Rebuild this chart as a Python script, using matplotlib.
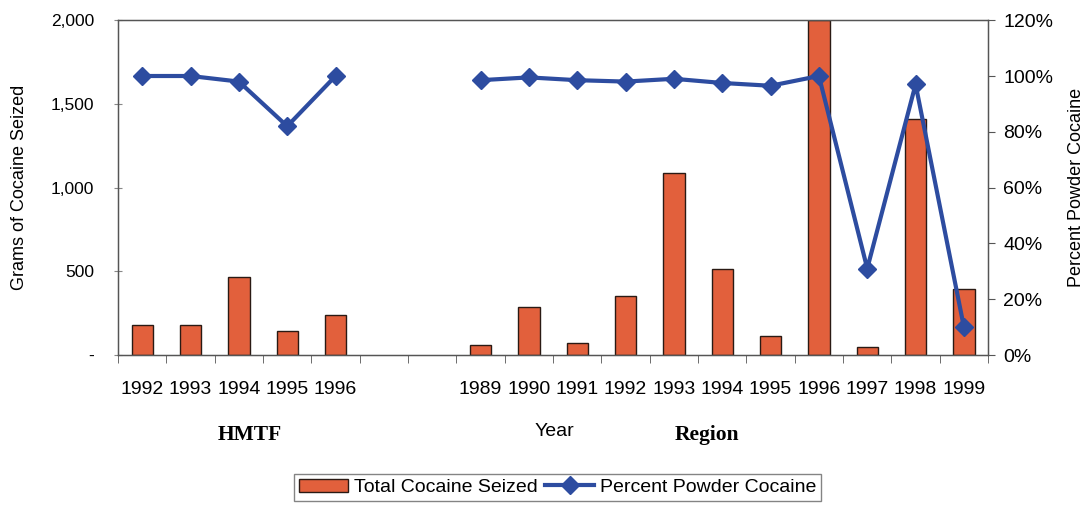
import numpy as np
import matplotlib.pyplot as plt
from matplotlib.ticker import FuncFormatter, PercentFormatter

plt.rcParams['font.family'] = ['Liberation Sans', 'DejaVu Sans']

# HMTF years, then two empty slots, then the region years
hmtf_years = ['1992', '1993', '1994', '1995', '1996']
region_years = ['1989', '1990', '1991', '1992', '1993', '1994',
                '1995', '1996', '1997', '1998', '1999']

hmtf_grams = [180, 180, 465, 143, 239]
region_grams = [60, 285, 70, 350, 1090, 515, 115, 2000, 50, 1410, 395]

hmtf_pct = [100, 100, 98, 82, 100]
region_pct = [98.5, 99.5, 98.5, 98, 99, 97.5, 96.5, 100, 31, 97, 10]

gap = 2
labels = hmtf_years + [''] * gap + region_years
grams = hmtf_grams + [np.nan] * gap + region_grams
pct = hmtf_pct + [np.nan] * gap + region_pct
x = np.arange(len(labels))

fig = plt.figure(figsize=(10.87, 5.05), dpi=100)
ax1 = fig.add_axes([0.1086, 0.297, 0.8004, 0.663])

bar_color = '#E2603C'
line_color = '#2D4CA0'
fs = 14

ax1.bar(x, grams, width=0.44, color=bar_color, edgecolor='#2a1a14', linewidth=1.0,
        label='Total Cocaine Seized', zorder=2)
ax1.set_xlim(-0.5, len(labels) - 0.5)
ax1.set_ylim(0, 2000)
ax1.set_yticks([0, 500, 1000, 1500, 2000])
ax1.yaxis.set_major_formatter(FuncFormatter(lambda v, p: '-' if v == 0 else f'{int(v):,}'))
ax1.set_ylabel('Grams of Cocaine Seized', fontsize=13)
ax1.yaxis.set_label_coords(-0.103, 0.5)
ax1.tick_params(axis='y', length=6, direction='inout', width=0.8, color='#888888',
                labelsize=12.5, pad=14)

# category labels at centres, tick marks on the boundaries
ax1.set_xticks(x)
ax1.set_xticklabels(labels, fontsize=fs)
ax1.tick_params(axis='x', length=0, pad=19)
ax1.set_xticks(np.arange(len(labels) + 1) - 0.5, minor=True)
ax1.tick_params(axis='x', which='minor', length=6, direction='out', color='#555555')

for s in ax1.spines.values():
    s.set_color('#555555')
    s.set_linewidth(1.0)

ax2 = ax1.twinx()
ax2.plot(x, pct, color=line_color, linewidth=3, marker='D', markersize=9,
         label='Percent Powder Cocaine', zorder=3)
ax2.set_ylim(0, 120)
ax2.set_yticks(np.arange(0, 121, 20))
ax2.yaxis.set_major_formatter(PercentFormatter(decimals=0))
ax2.tick_params(axis='y', length=5, direction='out', labelsize=fs, color='#555555', pad=6)
ax2.set_ylabel('Percent Powder Cocaine', fontsize=13)
ax2.yaxis.set_label_coords(1.092, 0.5)
for s in ax2.spines.values():
    s.set_color('#555555')

fig.text(0.230, 0.138, 'HMTF', family='Liberation Serif', weight='bold', fontsize=15.5,
         ha='center', va='center')
fig.text(0.510, 0.145, 'Year', fontsize=fs, ha='center', va='center')
fig.text(0.650, 0.138, 'Region', family='Liberation Serif', weight='bold', fontsize=15.5,
         ha='center', va='center')

h1, l1 = ax1.get_legend_handles_labels()
h2, l2 = ax2.get_legend_handles_labels()
leg = fig.legend(h1 + h2, l1 + l2, loc='center', bbox_to_anchor=(0.513, 0.035),
                 ncol=2, fontsize=fs, frameon=True, fancybox=False, edgecolor='#666666',
                 handlelength=2.5, columnspacing=0.4, handletextpad=0.3,
                 borderpad=0.25)

fig.savefig('out.png', dpi=100)
